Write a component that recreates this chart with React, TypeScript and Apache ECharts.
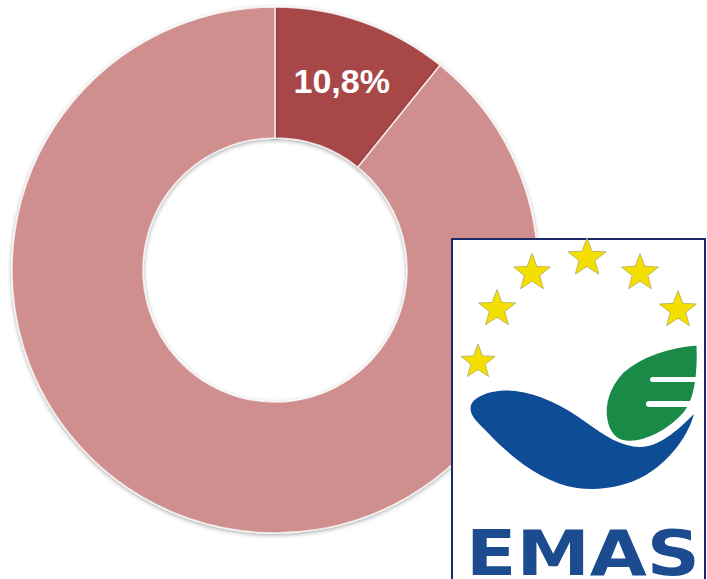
import React, { useEffect, useRef } from "react";
import * as echarts from "echarts";

const categories: string[] = ["EMAS", "Other"];
const shares: number[] = [10.8, 89.2];
const sliceColors: string[] = ["#A84646", "#D08F8F"];
const logoWord = "EMAS";

const SWOOSH_D =
  "M471 405 C476 394 497 389 515 391 C540 394 562 405 587 423 C605 436 622 447 640 447 C658 447 676 432 694 414 C687 440 666 463 646 475 C625 487 600 491 577 488 C545 483 515 461 490 435 C480 424 468 416 471 405 Z";
const LEAF_D =
  "M698 344 C670 346 641 355 622 372 C608 387 603 405 606 420 C608 432 615 441 626 442 C646 444 670 430 685 413 C697 398 699 370 698 344 Z";

let registered = false;
function registerShapes() {
  if (registered) return;
  registered = true;
  echarts.graphic.registerShape("emasSwoosh", echarts.graphic.extendPath(SWOOSH_D, {}) as any);
  echarts.graphic.registerShape("emasLeaf", echarts.graphic.extendPath(LEAF_D, {}) as any);
}

function starPoints(cx: number, cy: number, R: number): number[][] {
  const r = R * 0.42;
  const pts: number[][] = [];
  for (let i = 0; i < 10; i++) {
    const a = -Math.PI / 2 + (i * Math.PI) / 5;
    const rr = i % 2 === 0 ? R : r;
    pts.push([cx + rr * Math.cos(a), cy + rr * Math.sin(a)]);
  }
  return pts;
}

const starCenters: number[][] = [
  [478, 362, 18],
  [497, 309, 19.5],
  [532, 273, 19.5],
  [587, 258, 20],
  [640, 273, 19.5],
  [678, 310, 19.5],
];

export default function App() {
  const ref = useRef<HTMLDivElement>(null);
  useEffect(() => {
    if (!ref.current) return;
    registerShapes();
    const chart = echarts.init(ref.current, undefined, { renderer: "svg" });
    const stars = starCenters.map(([x, y, R]) => ({
      type: "polygon",
      z: 102,
      shape: { points: starPoints(x, y, R) },
      style: { fill: "#F3E000", stroke: "rgba(170,160,90,0.7)", lineWidth: 1 },
    }));
    chart.setOption({
      animation: false,
      backgroundColor: "#ffffff",
      series: [
        {
          type: "pie",
          center: [275, 270],
          radius: [132, 263],
          startAngle: 90,
          clockwise: true,
          avoidLabelOverlap: false,
          emphasis: { disabled: true },
          itemStyle: {
            borderColor: "rgba(255,255,255,0.75)",
            borderWidth: 1.5,
            shadowBlur: 4,
            shadowColor: "rgba(0,0,0,0.35)",
            shadowOffsetY: 1.5,
          },
          label: {
            show: true,
            position: "inside",
            color: "#ffffff",
            fontFamily: "Liberation Sans, Arial, sans-serif",
            fontWeight: "bold",
            fontSize: 34,
            formatter: (p: any) => String(p.value).replace(".", ",") + "%",
          },
          labelLine: { show: false },
          data: categories.map((c, i) => ({
            name: c,
            value: shares[i],
            itemStyle: { color: sliceColors[i] },
            label: { show: i === 0 },
          })),
        },
      ],
      graphic: [
        {
          type: "rect",
          z: 100,
          shape: { x: 452, y: 239, width: 253, height: 360 },
          style: { fill: "#ffffff", stroke: "#1B2A6B", lineWidth: 2 },
        },
        ...stars,
        {
          type: "emasSwoosh",
          z: 103,
          x: 0,
          y: 0,
          style: { fill: "#0F4C96" },
        },
        {
          type: "emasLeaf",
          z: 104,
          x: 0,
          y: 0,
          style: { fill: "#1A8A47", stroke: "#ffffff", lineWidth: 3 },
        },
        {
          type: "rect",
          z: 105,
          shape: { x: 650, y: 377, width: 52, height: 5, r: 2.5 },
          style: { fill: "#ffffff" },
        },
        {
          type: "rect",
          z: 105,
          shape: { x: 646, y: 401, width: 56, height: 6, r: 3 },
          style: { fill: "#ffffff" },
        },
        {
          type: "text",
          z: 106,
          x: 466,
          y: 554,
          scaleX: 1.19,
          originX: 0,
          originY: 0,
          style: {
            text: logoWord,
            fill: "#1C4B8F",
            font: "bold 62px 'DejaVu Sans', sans-serif",
            lineHeight: 46,
            verticalAlign: "middle",
            align: "left",
          },
        },
      ],
    });
    return () => chart.dispose();
  }, []);
  return (
    <div
      ref={ref}
      style={{ position: "absolute", left: 0, top: 0, width: 707, height: 579 }}
    />
  );
}
